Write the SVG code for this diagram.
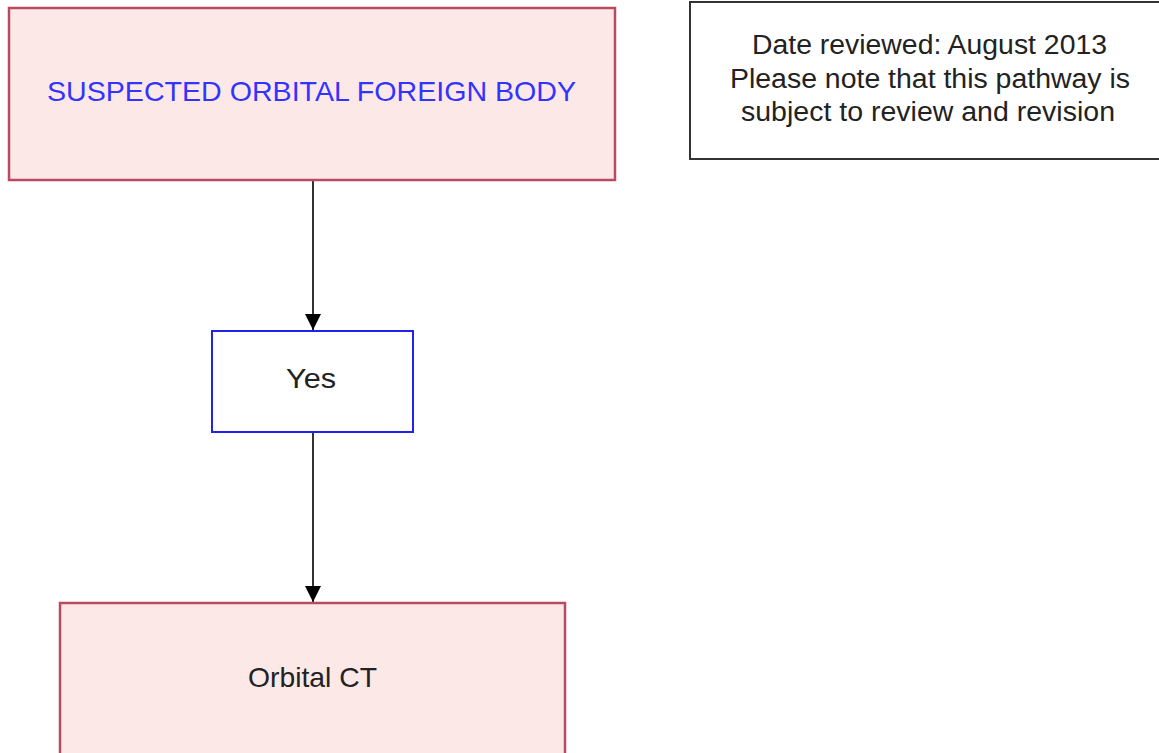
<svg xmlns="http://www.w3.org/2000/svg" width="1159" height="753" viewBox="0 0 1159 753">
<style>
text{font-family:"Liberation Sans",Arial,sans-serif;text-anchor:middle;font-size:28px;fill:#222}
.pink{fill:#fde8e8;stroke:#b84a62;stroke-width:2.5}
.conn{stroke:#333;stroke-width:2;fill:none}
</style>
<defs>
<marker id="arr" markerWidth="16" markerHeight="16" refX="16" refY="8" orient="auto" markerUnits="userSpaceOnUse">
<path d="M0,0 L16,8 L0,16 Z" fill="#000"/>
</marker>
</defs>
<rect width="1159" height="753" fill="#fff"/>
<g id="connectors">
<line class="conn" x1="313" y1="181" x2="313" y2="330" marker-end="url(#arr)"/>
<line class="conn" x1="313" y1="433" x2="313" y2="602" marker-end="url(#arr)"/>
</g>
<g id="suspected">
<rect class="pink" x="9" y="8" width="606" height="172"/>
<text x="311.5" y="101" style="fill:#3333ff" textLength="529" lengthAdjust="spacingAndGlyphs">SUSPECTED ORBITAL FOREIGN BODY</text>
</g>
<g id="note">
<rect x="690" y="2" width="475" height="157" fill="#fff" stroke="#333" stroke-width="2"/>
<text x="929.5" y="54" style="font-size:27px" textLength="355" lengthAdjust="spacingAndGlyphs">Date reviewed: August 2013</text>
<text x="930" y="88" style="font-size:27px" textLength="400" lengthAdjust="spacingAndGlyphs">Please note that this pathway is</text>
<text x="928" y="121" style="font-size:27px" textLength="374" lengthAdjust="spacingAndGlyphs">subject to review and revision</text>
</g>
<g id="yes">
<rect x="212" y="331" width="201" height="101" fill="#fff" stroke="#2222ee" stroke-width="2"/>
<text x="311" y="388" textLength="50" lengthAdjust="spacingAndGlyphs">Yes</text>
</g>
<g id="ct">
<rect class="pink" x="60" y="603" width="505" height="160"/>
<text x="312.5" y="687" textLength="129" lengthAdjust="spacingAndGlyphs">Orbital CT</text>
</g>
</svg>
